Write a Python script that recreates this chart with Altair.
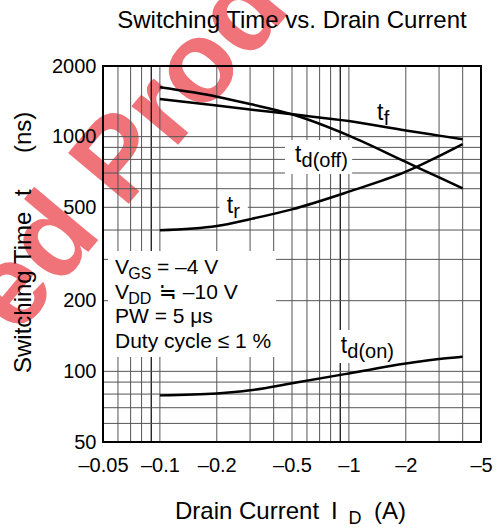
import altair as alt
import pandas as pd

FONT = "Liberation Sans"

# Drain current magnitude |I_D| in A where the curves are sampled
current = [0.1, 0.2, 0.3, 0.5, 1, 2, 3, 4]

# Switching times in ns
t_f = [1446, 1357, 1305, 1245, 1165, 1062, 1010, 975]
t_d_off = [1622, 1480, 1377, 1245, 1010, 780, 670, 602]
t_r = [399, 416, 445, 490, 583, 709, 827, 930]
t_d_on = [79, 80.5, 83, 89, 98, 108, 113, 115.5]

# Axis tick values
x_ticks = [0.05, 0.1, 0.2, 0.5, 1, 2, 5]
y_ticks = [50, 100, 200, 500, 1000, 2000]

# Log-paper grid lines
grid_x = [0.06, 0.07, 0.08, 0.1, 0.2, 0.3, 0.4, 0.5, 0.6, 0.7, 0.8, 1, 2, 3, 4]
grid_x_bold = [0.09, 0.9]
grid_y = [60, 70, 80, 90, 100, 200, 300, 400, 500, 600, 700, 800, 900, 1000]

# Curve labels: subscript and anchor of the "t" (A, ns)
label_sub = ["f", "d(off)", "r", "d(on)"]
label_x = [1.41, 0.518, 0.2257, 0.905]
label_y = [1177, 782, 471, 119.7]

# Blank patches behind the labels and the test-condition block (A, ns)
mask_x0 = [0.0531, 0.459, 0.2065, 0.855]
mask_x1 = [0.412, 1.04, 0.292, 1.87]
mask_y0 = [115, 693, 441, 108.6]
mask_y1 = [326, 968, 570, 150]

W, H = 378, 376

xscale = alt.Scale(type="log", domain=[0.05, 5], nice=False)
yscale = alt.Scale(type="log", domain=[50, 2000], nice=False)
xaxis = alt.Axis(values=x_ticks, labelExpr="'\u2013' + format(datum.value, '~g')",
                 title=None, grid=False, ticks=False, tickSize=0, domain=False,
                 labelFont=FONT, labelFontSize=20, labelColor="black",
                 labelPadding=13, labelFlush=False, labelOverlap=False, zindex=1)
yaxis = alt.Axis(values=y_ticks, format="d", title=None, grid=False, ticks=False,
                 tickSize=0, domain=False, labelFont=FONT, labelFontSize=20,
                 labelColor="black", labelPadding=7, labelFlush=False,
                 labelOverlap=False, zindex=1)
X = alt.X("x:Q", scale=xscale, axis=xaxis)
Y = alt.Y("y:Q", scale=yscale, axis=yaxis)

one = pd.DataFrame({"k": [0]})


def text(s, x, y, size, **kw):
    return alt.Chart(one).mark_text(
        text=s, font=FONT, fontSize=size, color=kw.pop("color", "black"),
        align=kw.pop("align", "left"), baseline="alphabetic", **kw
    ).encode(x=alt.value(x), y=alt.value(y))


watermark = text("ed Product", -86, 271, 115, fontWeight="bold", angle=310,
                 color="#e8323a", opacity=0.68)

grid = alt.Chart(pd.DataFrame({"x": grid_x})).mark_rule(
    color="#555555", strokeWidth=1).encode(x=X)
grid_bold = alt.Chart(pd.DataFrame({"x": grid_x_bold})).mark_rule(
    color="black", strokeWidth=1.2).encode(x=X)
grid_h = alt.Chart(pd.DataFrame({"y": grid_y})).mark_rule(
    color="#555555", strokeWidth=1).encode(y=Y)

masks = alt.Chart(pd.DataFrame({"x": mask_x0, "x2": mask_x1,
                                "y": mask_y0, "y2": mask_y1})).mark_rect(
    color="white").encode(x=X, x2="x2:Q", y=Y, y2="y2:Q")

series = {"t_f": t_f, "t_d_off": t_d_off, "t_r": t_r, "t_d_on": t_d_on}
curve_df = pd.DataFrame([
    {"series": name, "x": c, "y": v}
    for name, vals in series.items() for c, v in zip(current, vals)
])
curves = alt.Chart(curve_df).mark_line(
    interpolate="monotone", color="black", strokeWidth=2.5
).encode(x=X, y=Y, detail="series:N")

label_df = pd.DataFrame({"x": label_x, "y": label_y, "sub": label_sub})
t_main = alt.Chart(label_df).mark_text(
    text="t", font=FONT, fontSize=23, align="left", baseline="alphabetic",
    color="black").encode(x=X, y=Y)
t_sub = alt.Chart(label_df).mark_text(
    font=FONT, fontSize=20, align="left", baseline="alphabetic", color="black",
    dx=6.6, dy=5).encode(x=X, y=Y, text="sub:N")

# Test conditions block
conditions = [
    text("V", 12, 207.8, 21), text("GS", 25.3, 212.8, 16), text("= \u20134 V", 54, 207.8, 21),
    text("V", 12, 232.5, 21), text("DD", 25.3, 237.5, 16), text("\u2252 \u201310 V", 56, 232.5, 21),
    text("PW = 5 \u03bcs", 12, 257.2, 21),
    text("Duty cycle \u2264 1 %", 12, 282, 21),
]

frame = alt.Chart(one).mark_rect(
    fill="white", fillOpacity=0, stroke="black", strokeWidth=2
).encode(x=alt.value(0), x2=alt.value(W), y=alt.value(0), y2=alt.value(H))

titles = [
    text("Switching Time vs. Drain Current", 189, -38, 24, align="center"),
    text("Drain Current", 72, 453, 24),
    text("I", 228, 453, 24),
    text("D", 245.5, 458, 18),
    text("(A)", 271, 453, 24),
    text("Switching Time", -72, 307, 24, angle=270),
    text("t", -72, 130, 24, angle=270),
    text("(ns)", -72, 87, 24, angle=270),
]

chart = alt.layer(
    watermark, grid, grid_bold, grid_h, masks, curves, t_main, t_sub,
    *conditions, frame, *titles
).properties(
    width=W, height=H, autosize="none",
    padding={"left": 103, "top": 66, "right": 22, "bottom": 89},
    background="white",
).configure_view(stroke=None)

chart.save("out.html", embed_options={"renderer": "svg", "actions": False})
